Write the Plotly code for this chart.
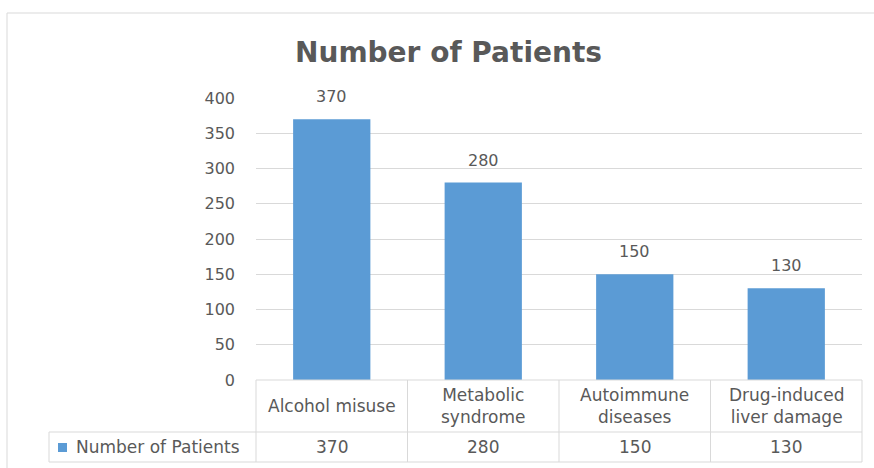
import plotly.graph_objects as go

categories = ["Alcohol misuse", "Metabolic syndrome", "Autoimmune diseases", "Drug-induced liver damage"]
table_labels = ["Alcohol misuse", "Metabolic<br>syndrome", "Autoimmune<br>diseases", "Drug-induced<br>liver damage"]
values = [370, 280, 150, 130]
series_name = "Number of Patients"
y_ticks = [0, 50, 100, 150, 200, 250, 300, 350, 400]

W_FIG, H_FIG = 874, 468
L, R, T, B = 256, 862, 98, 380
PW, PH = R - L, B - T

def px_x(px):
    return (px - L) / PW

def px_y(py):
    return (B - py) / PH

FONT = "DejaVu Sans"
TXT = "#595959"
GRID = "#D9D9D9"
BAR = "#5B9BD5"

fig = go.Figure()
fig.add_trace(go.Bar(x=categories, y=values, marker=dict(color=BAR, line=dict(width=0)),
                     name=series_name, showlegend=False, hoverinfo="x+y"))

annotations = []
# data labels
for c, v in zip(categories, values):
    annotations.append(dict(x=c, y=v, xref="x", yref="y", text=str(v), showarrow=False,
                            yanchor="bottom", yshift=11, font=dict(family=FONT, size=16, color=TXT)))
# table header
for c, lab in zip(categories, table_labels):
    annotations.append(dict(x=c, y=px_y(406), xref="x", yref="paper", text=lab, showarrow=False,
                            yanchor="middle", font=dict(family=FONT, size=17, color=TXT)))
# table values
for c, v in zip(categories, values):
    annotations.append(dict(x=c, y=px_y(447), xref="x", yref="paper", text=str(v), showarrow=False,
                            yanchor="middle", font=dict(family=FONT, size=17, color=TXT)))
# series name in table
annotations.append(dict(x=px_x(74), y=px_y(447), xref="paper", yref="paper", text=series_name,
                        showarrow=False, xanchor="left", yanchor="middle",
                        font=dict(family=FONT, size=17, color=TXT)))

shapes = []
line = dict(color=GRID, width=1)
n = len(categories)
# horizontal table lines
shapes.append(dict(type="line", xref="paper", yref="paper", x0=0, x1=1, y0=px_y(380), y1=px_y(380), line=line))
for py in (432, 462):
    shapes.append(dict(type="line", xref="paper", yref="paper", x0=px_x(49), x1=1, y0=px_y(py), y1=px_y(py), line=line))
# vertical table lines
for i in range(n + 1):
    shapes.append(dict(type="line", xref="paper", yref="paper", x0=i / n, x1=i / n, y0=px_y(380), y1=px_y(462), line=line))
shapes.append(dict(type="line", xref="paper", yref="paper", x0=px_x(49), x1=px_x(49), y0=px_y(432), y1=px_y(462), line=line))
# legend key
shapes.append(dict(type="rect", xref="paper", yref="paper", x0=px_x(58), x1=px_x(67), y0=px_y(443), y1=px_y(452),
                   fillcolor=BAR, line=dict(width=0)))
# chart border
shapes.append(dict(type="line", xref="paper", yref="paper", x0=px_x(7), x1=px_x(7), y0=px_y(13), y1=px_y(480), line=line))
shapes.append(dict(type="line", xref="paper", yref="paper", x0=px_x(7), x1=px_x(890), y0=px_y(13), y1=px_y(13), line=line))

fig.update_layout(
    width=W_FIG, height=H_FIG,
    margin=dict(l=L, r=W_FIG - R, t=T, b=H_FIG - B, pad=0),
    paper_bgcolor="white", plot_bgcolor="white",
    bargap=0.49,
    title=dict(text="<b>Number of Patients</b>", x=448.5 / W_FIG, xanchor="center",
               y=1 - 52 / H_FIG, yanchor="middle", yref="container",
               font=dict(family=FONT, size=28, color=TXT)),
    xaxis=dict(showticklabels=False, showgrid=False, zeroline=False, showline=False, ticks=""),
    yaxis=dict(range=[0, 400], tickvals=y_ticks, showgrid=True, gridcolor=GRID, gridwidth=1,
               zeroline=False, showline=False, ticks="", ticklabelstandoff=20,
               tickfont=dict(family=FONT, size=16, color=TXT)),
    annotations=annotations, shapes=shapes, showlegend=False,
)

fig.write_html("out.html")
